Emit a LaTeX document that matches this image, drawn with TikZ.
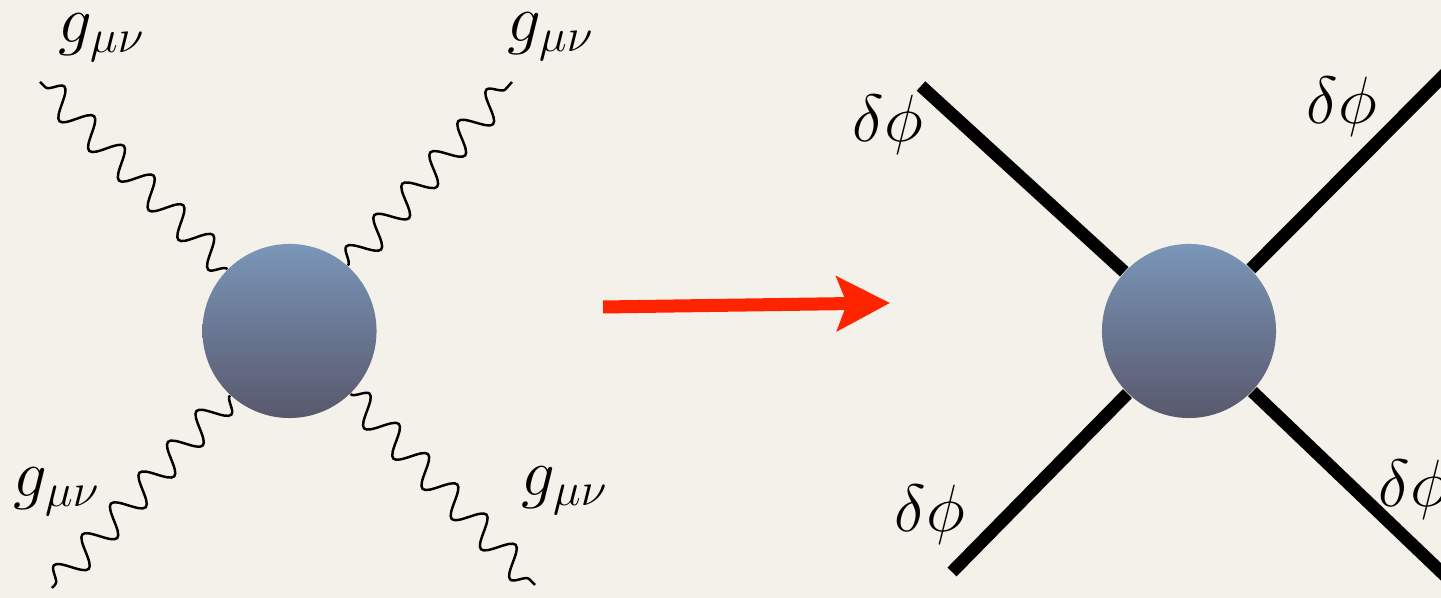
\RequirePackage{fix-cm}
\documentclass[tikz,border=0pt]{standalone}
\usepackage{amsmath}
\usepackage{xcolor}
\usepackage{tikz}
\usetikzlibrary{arrows.meta,decorations.pathmorphing}
\definecolor{paper}{RGB}{244,241,234}
\definecolor{arrowred}{RGB}{255,36,0}
\definecolor{blobtop}{RGB}{122,150,184}
\definecolor{blobbot}{RGB}{88,88,108}

\begin{document}
\begin{tikzpicture}[
  x=0.01cm, y=-0.01cm,
  blob/.style={circle, minimum size=1.74cm, inner sep=0pt, top color=blobtop, bottom color=blobbot},
  graviton/.style={decorate, decoration={snake, segment length=0.42cm, amplitude=0.14cm}, line width=0.7pt},
  scalar/.style={line width=3.6pt},
  lbl/.style={inner sep=0pt, font=\fontsize{19}{23}\selectfont},
  bigarr/.style={arrowred, line width=0.13cm, -{Stealth[length=0.53cm, width=0.54cm, inset=0.1cm]}}
]
\useasboundingbox (0,0) rectangle (1441,598);
\fill[paper] (0,0) rectangle (1441,598);

\node[blob] (blobL) at (289.5,331) {};
\node[blob] (blobR) at (1189,331) {};

\coordinate (gTL) at (40,82);
\coordinate (gTR) at (512,82);
\coordinate (gBL) at (52,588);
\coordinate (gBR) at (535,585);
\coordinate (sTL) at (921,86);
\coordinate (sTR) at (1460,59);
\coordinate (sBL) at (952,572);
\coordinate (sBR) at (1460,590);
\coordinate (arrS) at (603,307);
\coordinate (arrE) at (890,303);

\draw[graviton] (blobL) -- (gTL);
\draw[graviton] (blobL) -- (gTR);
\draw[graviton] (blobL) -- (gBL);
\draw[graviton] (blobL) -- (gBR);

\draw[scalar] (blobR) -- (sTL);
\draw[scalar] (blobR) -- (sTR);
\draw[scalar] (blobR) -- (sBL);
\draw[scalar] (blobR) -- (sBR);

\draw[bigarr] (arrS) -- (arrE);

\node[lbl] (labTL) at (102,38) {$g_{\mu\nu}$};
\node[lbl] (labTR) at (551,37) {$g_{\mu\nu}$};
\node[lbl] (labBL) at (57,492) {$g_{\mu\nu}$};
\node[lbl] (labBR) at (565,491) {$g_{\mu\nu}$};
\node[lbl] (phiTL) at (888,125) {$\delta\phi$};
\node[lbl] (phiTR) at (1342,107) {$\delta\phi$};
\node[lbl] (phiBL) at (930,515) {$\delta\phi$};
\node[lbl] (phiBR) at (1414,490) {$\delta\phi$};
\end{tikzpicture}
\end{document}
